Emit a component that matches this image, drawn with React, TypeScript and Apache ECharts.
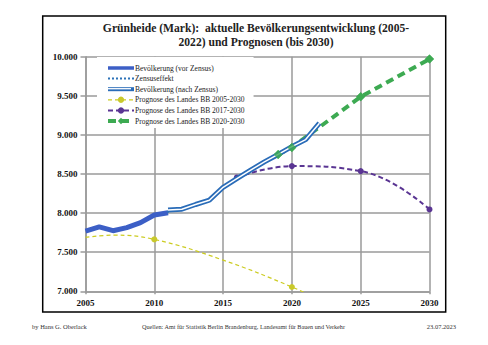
import React, { useEffect, useRef } from "react";
import * as echarts from "echarts";

const SERIF = "'Liberation Serif', 'DejaVu Serif', serif";

const vorZensus: [number, number][] = [
  [2005, 7770], [2006, 7825], [2007, 7775], [2008, 7815], [2009, 7878], [2010, 7975], [2011, 8005],
];
const zensusEffekt: [number, number][] = [[2011, 8005], [2011, 8040]];
const nachZensus: [number, number][] = [
  [2011, 8040], [2012, 8050], [2013, 8110], [2014, 8165], [2015, 8330], [2016, 8440],
  [2017, 8550], [2018, 8655], [2019, 8750], [2020, 8850], [2021, 8940], [2022, 9150],
];
// Prognose 2005-2030: markers only at 2010 and 2020; other values
const prog2005: [number, number][] = [[2005, 7689], [2007, 7718], [2010, 7664], [2015, 7399], [2020, 7055], [2025, 6650]];
const prog2005Marked = [2010, 2020];
const prog2017: [number, number][] = [[2016, 8456], [2020, 8601], [2025, 8537], [2030, 8047]];
const prog2020: [number, number][] = [[2019, 8750], [2020, 8840], [2025, 9488], [2030, 9970]];

const names = [
  "Bevölkerung (vor Zensus)",
  "Zensuseffekt",
  "Bevölkerung (nach Zensus)",
  "Prognose des Landes BB 2005-2030",
  "Prognose des Landes BB 2017-2030",
  "Prognose des Landes BB 2020-2030",
];
const legendLineWidths = [3.5, 2, 4, 1.2, 2, 4];

const fmt = (v: number) => {
  const s = String(Math.round(v));
  return s.length > 3 ? s.slice(0, s.length - 3) + "." + s.slice(-3) : s;
};

export default function App() {
  const ref = useRef<HTMLDivElement>(null);
  useEffect(() => {
    const chart = echarts.init(ref.current!, null, { renderer: "svg" });
    const grey = "#9a9a9a";
    chart.setOption({
      animation: false,
      backgroundColor: "#fff",
      grid: { left: 85.5, right: 58.5, top: 56.7, bottom: 53.7 },
      xAxis: {
        type: "value", min: 2005, max: 2030, interval: 5,
        axisLine: { show: true, lineStyle: { color: grey, width: 1.5 } },
        axisTick: { show: true, length: 3, lineStyle: { color: grey, width: 1.5 } },
        splitLine: { show: true, lineStyle: { color: grey, width: 1.5 } },
        axisLabel: { color: "#111", fontFamily: SERIF, fontWeight: "bold", fontSize: 9, margin: 7, formatter: (v: number) => String(v) },
      },
      yAxis: {
        type: "value", min: 7000, max: 10000, interval: 500,
        axisLine: { show: true, lineStyle: { color: grey, width: 1.5 } },
        axisTick: { show: true, length: 5, lineStyle: { color: grey, width: 1.5 } },
        splitLine: { show: true, lineStyle: { color: grey, width: 1.5 } },
        axisLabel: { color: "#111", fontFamily: SERIF, fontWeight: "bold", fontSize: 9, margin: 8, formatter: fmt },
      },
      legend: {
        data: names.map((n, i) =>
          i < 3
            ? { name: n, itemStyle: { opacity: 0 }, lineStyle: { width: legendLineWidths[i] } }
            : { name: n, lineStyle: { width: legendLineWidths[i] } }
        ),
        orient: "vertical",
        left: 97, top: 57,
        padding: [7, 9, 3, 9],
        itemWidth: 26, itemHeight: 8, itemGap: 2.6,
        backgroundColor: "#fff",
        textStyle: { fontFamily: SERIF, fontSize: 7.5, color: "#222", padding: [0, 0, 0, -4] },
      },
      series: [
        {
          name: names[3], type: "line",
          data: prog2005.map((d) => (prog2005Marked.includes(d[0]) ? d : { value: d, symbol: "none" })),
          smooth: 0.4, symbol: "circle", symbolSize: 6, z: 2,
          lineStyle: { color: "#cccc22", width: 1.2, type: [4, 3] },
          itemStyle: { color: "#c9c92c" },
        },
        {
          name: names[4], type: "line", data: prog2017, smooth: 0.45, symbol: "circle", symbolSize: 6, z: 2,
          lineStyle: { color: "#5a3593", width: 2, type: [5, 3] },
          itemStyle: { color: "#5a3593" },
        },
        {
          name: names[5], type: "line", data: prog2020, symbol: "diamond", symbolSize: 9, z: 1,
          lineStyle: { color: "#3daa52", width: 4, type: [8, 5] },
          itemStyle: { color: "#3daa52" },
        },
        {
          name: names[0], type: "line", data: vorZensus, symbol: "none", z: 3,
          lineStyle: { color: "#3c5fc6", width: 5 },
          itemStyle: { color: "#3c5fc6" },
        },
        {
          name: names[1], type: "line", data: zensusEffekt, symbol: "none", z: 3,
          lineStyle: { color: "#2c72b8", width: 2, type: "dotted" },
          itemStyle: { color: "#2c72b8" },
        },
        {
          name: names[2], type: "line", data: nachZensus, symbol: "none", z: 3,
          lineStyle: { color: "#2a6cb8", width: 5 },
          itemStyle: { color: "#2a6cb8" },
        },
        {
          name: "nachZensusInner", type: "line", data: nachZensus, symbol: "none", z: 4,
          lineStyle: { color: "#ffffff", width: 1.5 },
          silent: true,
        },
        {
          name: "prog2020Points", type: "scatter", data: prog2020, symbol: "diamond", symbolSize: 9, z: 5,
          itemStyle: { color: "#3daa52" },
        },
      ],
      graphic: [
        {
          type: "rect", z: 100, silent: true,
          shape: { x: 42.7, y: 16, width: 403, height: 296 },
          style: { fill: "none", stroke: "#000", lineWidth: 1.5 },
        },
        {
          type: "line", z: 100, silent: true,
          shape: { x1: 107, y1: 88.7, x2: 131, y2: 88.7 },
          style: { stroke: "#fff", lineWidth: 1.3 },
        },
        {
          type: "text", x: 256, y: 21, z: 100,
          style: {
            text: "Grünheide (Mark):  aktuelle Bevölkerungsentwicklung (2005-\n2022) und Prognosen (bis 2030)",
            fontFamily: SERIF, fontWeight: "bold", fontSize: 11.6, lineHeight: 14.5,
            fill: "#222", align: "center", verticalAlign: "top",
          },
        },
        {
          type: "text", x: 32, y: 326.5, z: 100,
          style: { text: "by Hans G. Oberlack", fontFamily: SERIF, fontSize: 6.5, fill: "#333", align: "left", verticalAlign: "middle" },
        },
        {
          type: "text", x: 243.5, y: 326.5, z: 100,
          style: { text: "Quellen: Amt für Statistik Berlin Brandenburg, Landesamt für Bauen und Verkehr", fontFamily: SERIF, fontSize: 6.2, fill: "#333", align: "center", verticalAlign: "middle" },
        },
        {
          type: "text", x: 456, y: 326.5, z: 100,
          style: { text: "23.07.2023", fontFamily: SERIF, fontSize: 6.5, fill: "#333", align: "right", verticalAlign: "middle" },
        },
      ],
    });
    return () => chart.dispose();
  }, []);
  return (
    <div
      ref={ref}
      style={{ position: "absolute", left: 0, top: 0, width: 488, height: 345 }}
    />
  );
}
